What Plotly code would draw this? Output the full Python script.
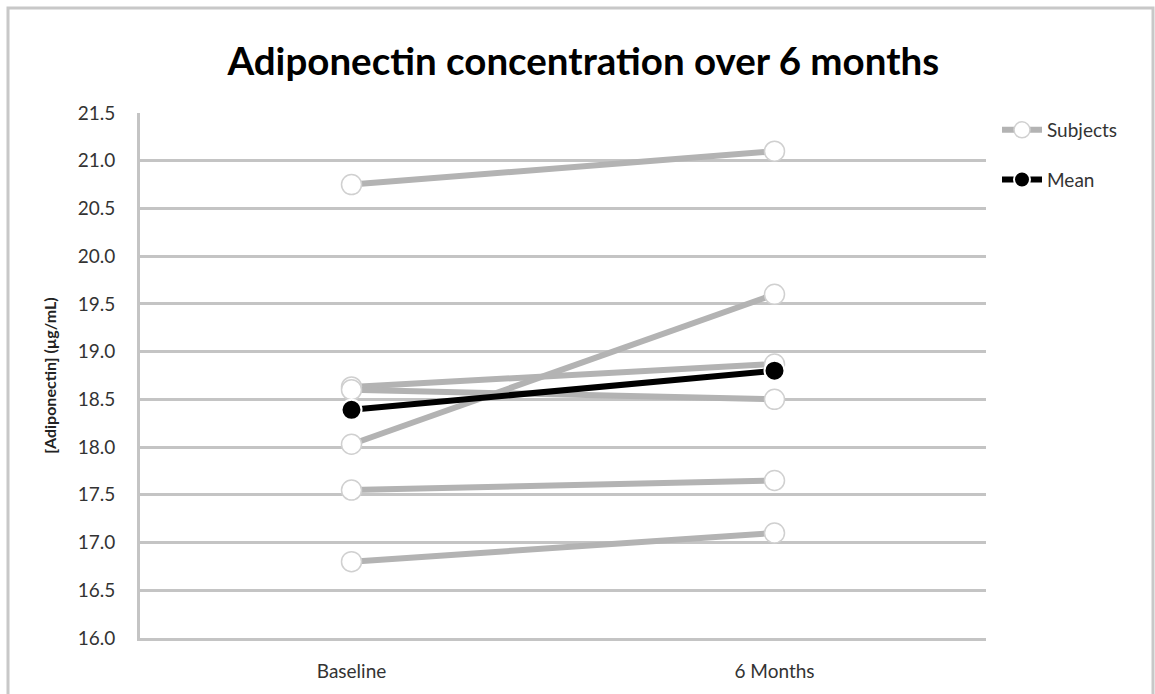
import plotly.graph_objects as go

# Time points on the category axis
timepoints = ["Baseline", "6 Months"]

# Adiponectin concentration (µg/mL) per subject: [baseline, 6 months]
subject_a = [20.75, 21.10]
subject_b = [18.63, 18.87]
subject_c = [18.60, 18.50]
subject_d = [18.03, 19.60]
subject_e = [17.55, 17.65]
subject_f = [16.80, 17.10]
subjects = [subject_a, subject_b, subject_c, subject_d, subject_e, subject_f]

# Group mean at each time point
mean_values = [18.39, 18.80]

# Y-axis tick values
y_ticks = [16.0, 16.5, 17.0, 17.5, 18.0, 18.5, 19.0, 19.5, 20.0, 20.5, 21.0, 21.5]

FONT = "Lato, 'Open Sans', sans-serif"
GRID = "#c4c4c4"
SUBJECT_GREY = "#b3b3b3"
TEXT = "#333333"

fig = go.Figure()

for i, vals in enumerate(subjects):
    fig.add_trace(go.Scatter(
        x=timepoints, y=vals, mode="lines+markers",
        name="Subjects", legendgroup="subjects", showlegend=(i == 0),
        line=dict(color=SUBJECT_GREY, width=6),
        marker=dict(symbol="circle", size=20, color="white",
                    line=dict(color="#d0d0d0", width=1.5)),
    ))

fig.add_trace(go.Scatter(
    x=timepoints, y=mean_values, mode="lines+markers",
    name="Mean", legendgroup="mean",
    line=dict(color="black", width=6),
    marker=dict(symbol="circle", size=20, color="black",
                line=dict(color="white", width=2)),
))

# Plot area: x 140-986 px, y 113-638 px on a 1155x694 canvas
W, H = 1155, 694
L, R, T, B = 140, 986, 113, 638
pw, ph = R - L, B - T

def px(x):
    return (x - L) / pw

def py(y):
    return (B - y) / ph

fig.update_layout(
    width=W, height=H,
    margin=dict(l=L, r=W - R, t=T, b=H - B),
    paper_bgcolor="white", plot_bgcolor="white",
    font=dict(family=FONT, size=19, color=TEXT),
    title=dict(text="<b>Adiponectin concentration over 6 months</b>",
               x=0.505, xanchor="center", y=1 - 62 / H, yanchor="middle",
               font=dict(family=FONT, size=38.5, color="black")),
    showlegend=True,
    legend=dict(x=px(997), xanchor="left", y=py(111), yanchor="top",
                font=dict(family=FONT, size=19, color=TEXT),
                tracegroupgap=22, itemwidth=40, bgcolor="rgba(0,0,0,0)"),
    shapes=[dict(type="rect", xref="paper", yref="paper",
                 x0=px(8), x1=px(1153), y0=py(700), y1=py(8),
                 line=dict(color="#c8c8c8", width=3), layer="below")],
)

fig.update_xaxes(
    type="category", categoryorder="array", categoryarray=timepoints,
    range=[-0.5, 1.5],
    showgrid=False, showline=True, linecolor=GRID, linewidth=3,
    ticks="", ticklabelstandoff=14, tickfont=dict(size=19, color=TEXT),
    zeroline=False,
)
fig.update_yaxes(
    range=[16.0, 21.5], tickvals=y_ticks, tickformat=".1f",
    showgrid=True, gridcolor=GRID, gridwidth=3,
    showline=True, linecolor=GRID, linewidth=3,
    ticks="", ticklabelstandoff=18, tickfont=dict(size=19, color=TEXT),
    title=dict(text="<b>[Adiponectin] (µg/mL)</b>", standoff=18,
               font=dict(family=FONT, size=16, color="#222222")),
    zeroline=False,
)

fig.write_html("out.html")
